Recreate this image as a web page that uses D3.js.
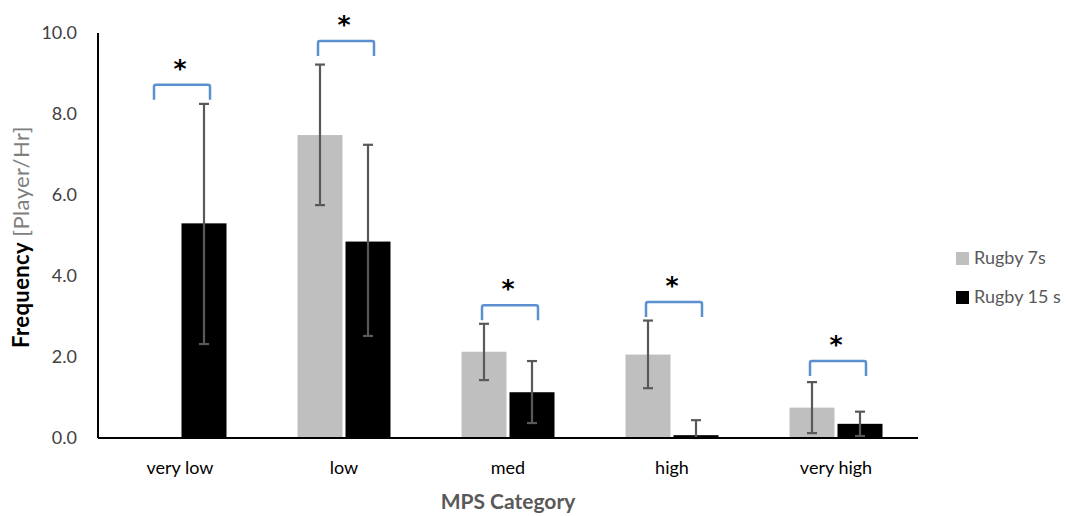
<!DOCTYPE html>
<html lang="en">
<head>
    <meta charset="UTF-8">
    <script src="https://d3js.org/d3.v7.min.js"></script>
    <title>Frequency by MPS Category</title>
    <style>
        body {
            margin: 0;
            background: #fff;
            font-family: 'Lato', 'Liberation Sans', sans-serif;
        }
        .tick-label {
            font-size: 18px;
            fill: #404040;
        }
        .cat-label {
            font-size: 18px;
            fill: #000;
        }
        .legend-text {
            font-size: 18px;
            fill: #595959;
        }
    </style>
</head>
<body>
    <svg width="1068" height="516"></svg>
    <script>
        // Data
        const categories = ["very low", "low", "med", "high", "very high"];
        const seriesNames = ["Rugby 7s", "Rugby 15 s"];
        const rugby7s = [0, 7.48, 2.13, 2.06, 0.75];
        const rugby7sHigh = [null, 9.22, 2.82, 2.90, 1.38];
        const rugby7sLow = [null, 5.75, 1.43, 1.23, 0.12];
        const rugby15s = [5.30, 4.85, 1.13, 0.07, 0.35];
        const rugby15sHigh = [8.25, 7.24, 1.90, 0.44, 0.65];
        const rugby15sLow = [2.32, 2.52, 0.37, 0.0, 0.05];
        const bracketTops = [8.72, 9.80, 3.28, 3.36, 1.90];
        const yTicks = [0, 2, 4, 6, 8, 10];

        const colors = ["#bfbfbf", "#000000"];

        const width = 1068;
        const height = 516;
        const margin = { top: 33, right: 150, bottom: 78, left: 98 };

        const svg = d3.select("svg");

        // Scales
        const x = d3.scaleBand()
            .domain(categories)
            .range([margin.left, 918])
            .padding(0);

        const xInner = d3.scaleBand()
            .domain(seriesNames)
            .range([0, 93])
            .paddingInner(0.0625);

        const y = d3.scaleLinear()
            .domain([0, 10])
            .range([height - margin.bottom, margin.top]);

        const groupStart = c => x(c) + x.bandwidth() / 2 - 46.5;

        const series = [
            { name: seriesNames[0], values: rugby7s, hi: rugby7sHigh, lo: rugby7sLow, color: colors[0] },
            { name: seriesNames[1], values: rugby15s, hi: rugby15sHigh, lo: rugby15sLow, color: colors[1] }
        ];

        // Bars
        series.forEach(s => {
            svg.append("g")
                .selectAll("rect")
                .data(categories)
                .join("rect")
                .attr("x", c => groupStart(c) + xInner(s.name))
                .attr("y", (c, i) => y(s.values[i]))
                .attr("width", xInner.bandwidth())
                .attr("height", (c, i) => y(0) - y(s.values[i]))
                .attr("fill", s.color);
        });

        // Error bars
        series.forEach(s => {
            const g = svg.append("g")
                .attr("stroke", "#595959")
                .attr("stroke-width", 2.2);
            categories.forEach((c, i) => {
                if (s.hi[i] == null) return;
                const cx = groupStart(c) + xInner(s.name) + xInner.bandwidth() / 2;
                g.append("line")
                    .attr("x1", cx).attr("x2", cx)
                    .attr("y1", y(s.hi[i])).attr("y2", y(s.lo[i]));
                [s.hi[i], s.lo[i]].forEach(v => {
                    g.append("line")
                        .attr("x1", cx - 5).attr("x2", cx + 5)
                        .attr("y1", y(v)).attr("y2", y(v));
                });
            });
        });

        // Axes
        svg.append("line")
            .attr("x1", margin.left).attr("x2", margin.left)
            .attr("y1", y(10)).attr("y2", y(0))
            .attr("stroke", "#000").attr("stroke-width", 2);
        svg.append("line")
            .attr("x1", margin.left).attr("x2", 918)
            .attr("y1", y(0)).attr("y2", y(0))
            .attr("stroke", "#000").attr("stroke-width", 2);

        svg.append("g")
            .selectAll("text")
            .data(yTicks)
            .join("text")
            .attr("class", "tick-label")
            .attr("x", 77)
            .attr("y", d => y(d))
            .attr("dy", "0.35em")
            .attr("text-anchor", "end")
            .text(d => d.toFixed(1));

        svg.append("g")
            .selectAll("text")
            .data(categories)
            .join("text")
            .attr("class", "cat-label")
            .attr("x", c => x(c) + x.bandwidth() / 2)
            .attr("y", 474)
            .attr("text-anchor", "middle")
            .text(c => c);

        // Axis titles
        svg.append("text")
            .attr("x", 508)
            .attr("y", 509)
            .attr("text-anchor", "middle")
            .attr("font-size", 21)
            .attr("font-weight", 700)
            .attr("fill", "#595959")
            .text("MPS Category");

        const yTitle = svg.append("text")
            .attr("transform", "translate(29,237) rotate(-90)")
            .attr("text-anchor", "middle")
            .attr("font-size", 22)
            .attr("letter-spacing", 0.4);
        yTitle.append("tspan")
            .attr("font-weight", 700)
            .attr("fill", "#000")
            .text("Frequency ");
        yTitle.append("tspan")
            .attr("fill", "#7f7f7f")
            .text("[Player/Hr]");

        // Significance brackets
        const br = svg.append("g");
        categories.forEach((c, i) => {
            const x1 = groupStart(c) + xInner.bandwidth() / 2 - 2;
            const x2 = groupStart(c) + xInner(seriesNames[1]) + xInner.bandwidth() / 2 + 6;
            const top = y(bracketTops[i]);
            br.append("path")
                .attr("d", `M${x1},${top + 15} V${top + 2} Q${x1},${top} ${x1 + 2},${top} H${x2 - 2} Q${x2},${top} ${x2},${top + 2} V${top + 15}`)
                .attr("fill", "none")
                .attr("stroke", "#5b8fd0")
                .attr("stroke-width", 2.5);
            br.append("text")
                .attr("x", x(c) + x.bandwidth() / 2)
                .attr("y", top - 8)
                .attr("text-anchor", "middle")
                .attr("font-family", "DejaVu Sans")
                .attr("font-weight", 700)
                .attr("font-size", 25)
                .attr("fill", "#000")
                .text("*");
        });

        // Legend
        const legend = svg.append("g");
        series.forEach((s, i) => {
            const ly = 258 + i * 39;
            legend.append("rect")
                .attr("x", 956).attr("y", ly - 6)
                .attr("width", 13).attr("height", 13)
                .attr("fill", s.color);
            legend.append("text")
                .attr("class", "legend-text")
                .attr("x", 974).attr("y", ly)
                .attr("dy", "0.35em")
                .text(s.name);
        });
    </script>
</body>
</html>
